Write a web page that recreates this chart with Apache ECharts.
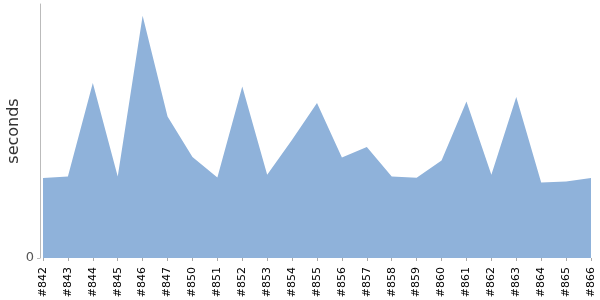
<!DOCTYPE html>
<html>
<head>
<meta charset="utf-8">
<script src="https://cdn.jsdelivr.net/npm/echarts@6/dist/echarts.min.js"></script>
<style>html,body{margin:0;padding:0;background:#fff}#c{width:600px;height:300px}</style>
</head>
<body>
<div id="c"></div>
<script>
const categories = ['#842','#843','#844','#845','#846','#847','#850','#851','#852','#853','#854','#855','#856','#857','#858','#859','#860','#861','#862','#863','#864','#865','#866'];
const seconds = [80, 81.6, 175, 81.6, 242.3, 141.6, 101, 80.6, 171.6, 83.3, 118.3, 155, 100.6, 111, 81.6, 80.3, 97.6, 156.6, 83.3, 161, 75.6, 76.6, 80];
const yTicks = [0];

const chart = echarts.init(document.getElementById('c'), null, {renderer: 'canvas'});
chart.setOption({
  animation: false,
  grid: {left: 43, right: 9, top: 4, bottom: 42, containLabel: false, outerBoundsMode: 'none'},
  xAxis: {
    type: 'category',
    data: categories,
    boundaryGap: false,
    offset: 5,
    axisLine: {show: false},
    axisTick: {show: true, length: 3, alignWithLabel: true, lineStyle: {color: '#aaa'}},
    axisLabel: {rotate: 90, interval: 0, fontSize: 11, color: '#000', fontFamily: 'DejaVu Sans', margin: 4},
    splitLine: {show: false}
  },
  yAxis: {
    type: 'value',
    min: 0,
    max: 254,
    offset: 3,
    name: 'seconds',
    nameLocation: 'middle',
    nameGap: 18,
    nameMoveOverlap: false,
    nameTextStyle: {fontSize: 16, color: '#333', fontFamily: 'DejaVu Sans'},
    axisLine: {show: true, lineStyle: {color: '#bbb'}},
    axisTick: {show: true, length: 3, customValues: yTicks, lineStyle: {color: '#bbb'}},
    axisLabel: {customValues: yTicks, fontSize: 13, color: '#555', fontFamily: 'DejaVu Sans', margin: 6},
    splitLine: {show: false}
  },
  series: [{
    type: 'line',
    data: seconds,
    symbol: 'none',
    lineStyle: {width: 0},
    areaStyle: {color: '#8fb2da', opacity: 1}
  }]
});
</script>
</body>
</html>
